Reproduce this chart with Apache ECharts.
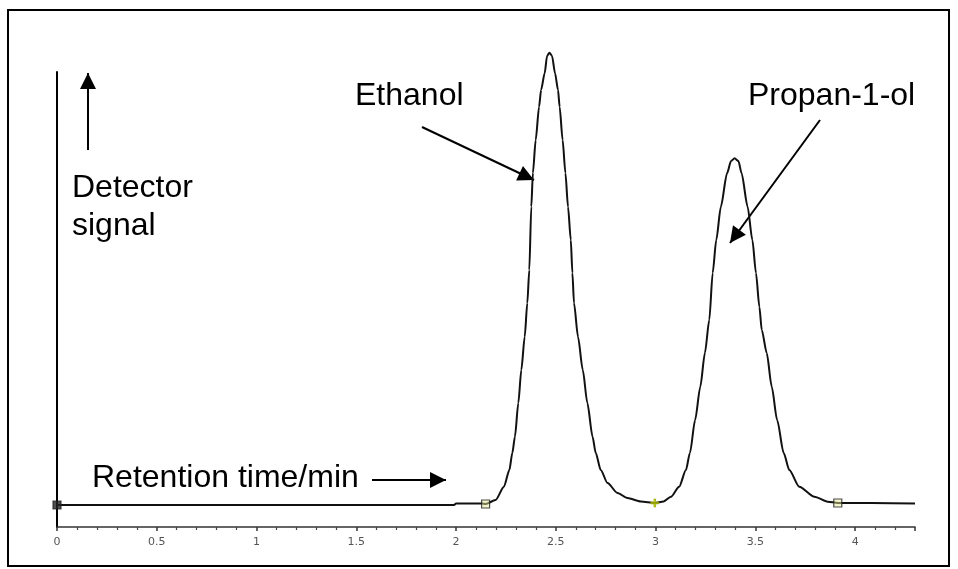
<!DOCTYPE html>
<html>
<head>
<meta charset="utf-8">
<script src="https://cdn.jsdelivr.net/npm/echarts@6/dist/echarts.min.js"></script>
<style>
  html, body { margin: 0; padding: 0; background: #fff; }
  #chart { width: 958px; height: 569px; }
</style>
</head>
<body>
<div id="chart"></div>
<script>
// retention time (min) and detector signal
const timeMin = [0, 0.5, 1.0, 1.5, 1.99, 2.0, 2.13, 2.148, 2.198, 2.240, 2.267, 2.282, 2.295, 2.312, 2.327, 2.344, 2.357, 2.367, 2.377, 2.385, 2.399, 2.416, 2.426, 2.444, 2.456, 2.468, 2.481, 2.496, 2.511, 2.519, 2.534, 2.548, 2.561, 2.575, 2.583, 2.591, 2.611, 2.635, 2.658, 2.684, 2.700, 2.725, 2.759, 2.809, 2.859, 2.926, 2.996, 3.040, 3.077, 3.118, 3.152, 3.172, 3.198, 3.224, 3.247, 3.269, 3.286, 3.304, 3.327, 3.358, 3.378, 3.396, 3.415, 3.431, 3.461, 3.485, 3.503, 3.520, 3.532, 3.557, 3.582, 3.609, 3.642, 3.670, 3.720, 3.796, 3.863, 3.913, 4.08, 4.3];
const signal  = [0, 0, 0, 0, 0, 1.5, 1.5, 1, 5, 18.3, 35, 52, 68.3, 102, 135, 168.3, 202, 235, 298.3, 332, 365, 398.3, 415, 431.7, 449, 452.3, 449, 431.7, 415, 398.3, 365, 332, 298.3, 265, 232, 202, 168.3, 135, 102, 68.3, 52, 35, 22, 12, 7, 3.5, 2, 3.5, 8.3, 18.3, 35, 52, 85, 118.3, 152, 185, 232, 265, 298.3, 331.7, 344, 346.7, 344, 331.7, 298.3, 265, 232, 198.3, 175, 152, 118.3, 85, 52, 35, 18.3, 8.3, 3.3, 2, 2, 1.5];

// integration markers (start, valley, end)
const markTimes   = [0, 2.148, 2.996, 3.913];
const markSignals = [0, 1, 2, 2];
const markShapes  = ['rect', 'rect', 'path://M4,0H6V4H10V6H6V10H4V6H0V4H4Z', 'rect'];

const xTickStep = 0.5;

const chart = echarts.init(document.getElementById('chart'));

const trace = timeMin.map((t, i) => [t, signal[i]]);
const marks = markTimes.map((t, i) => ({
  value: [t, markSignals[i]],
  symbol: markShapes[i],
  itemStyle: i === 2 ? { color: '#c8d400', borderColor: '#9aa600' }
                     : { color: i === 0 ? '#222' : 'rgba(230,230,150,0.6)', borderColor: '#222', borderWidth: 1.2 }
}));

function arrowHead(tx, ty, fx, fy, len, half) {
  const a = Math.atan2(ty - fy, tx - fx);
  const bx = tx - len * Math.cos(a), by = ty - len * Math.sin(a);
  return [[tx, ty],
          [bx + half * Math.sin(a), by - half * Math.cos(a)],
          [bx - half * Math.sin(a), by + half * Math.cos(a)]];
}
function arrow(fx, fy, tx, ty) {
  return [
    { type: 'line', shape: { x1: fx, y1: fy, x2: tx, y2: ty }, style: { stroke: '#000', lineWidth: 2 } },
    { type: 'polygon', shape: { points: arrowHead(tx, ty, fx, fy, 16, 8) }, style: { fill: '#000' } }
  ];
}
const txt = (x, y, s) => ({
  type: 'text', left: x, top: y,
  style: { text: s, fontFamily: 'Liberation Sans, Arial', fontSize: 32, fill: '#000' }
});

chart.setOption({
  animation: false,
  backgroundColor: '#fff',
  grid: { left: 57, right: 43, top: 72, bottom: 42 },
  xAxis: {
    type: 'value',
    min: 0,
    max: 4.3,
    interval: xTickStep,
    axisLine: { onZero: false, lineStyle: { color: '#333', width: 1.5 } },
    axisTick: { inside: false, length: 4, lineStyle: { color: '#333', width: 1.5 } },
    minorTick: { show: true, splitNumber: 5, length: 3, lineStyle: { color: '#444', width: 1.2 } },
    axisLabel: { showMaxLabel: false, color: '#555', fontSize: 11, margin: 10, fontFamily: 'DejaVu Sans' },
    splitLine: { show: false }
  },
  yAxis: {
    type: 'value',
    min: -22,
    max: 433,
    axisLine: { show: true, onZero: false, lineStyle: { color: '#000', width: 2 } },
    axisTick: { show: false },
    axisLabel: { show: false },
    splitLine: { show: false }
  },
  series: [
    {
      name: 'Detector signal',
      type: 'line',
      data: trace,
      clip: false,
      smooth: 0.25,
      smoothMonotone: 'x',
      symbol: 'none',
      lineStyle: { color: '#111', width: 2 }
    },
    {
      name: 'Integration marks',
      type: 'scatter',
      data: marks,
      symbolSize: 8,
      z: 3
    }
  ],
  graphic: [
    { type: 'rect', shape: { x: 8, y: 10, width: 941, height: 556 }, style: { fill: 'none', stroke: '#000', lineWidth: 2 }, silent: true },
    txt(355, 80, 'Ethanol'),
    txt(748, 80, 'Propan-1-ol'),
    txt(72, 172, 'Detector'),
    txt(72, 210, 'signal'),
    txt(92, 462, 'Retention time/min'),
    ...arrow(88, 150, 88, 73),
    ...arrow(422, 127, 534, 180),
    ...arrow(820, 120, 730, 243),
    ...arrow(372, 480, 446, 480)
  ]
});
</script>
</body>
</html>
